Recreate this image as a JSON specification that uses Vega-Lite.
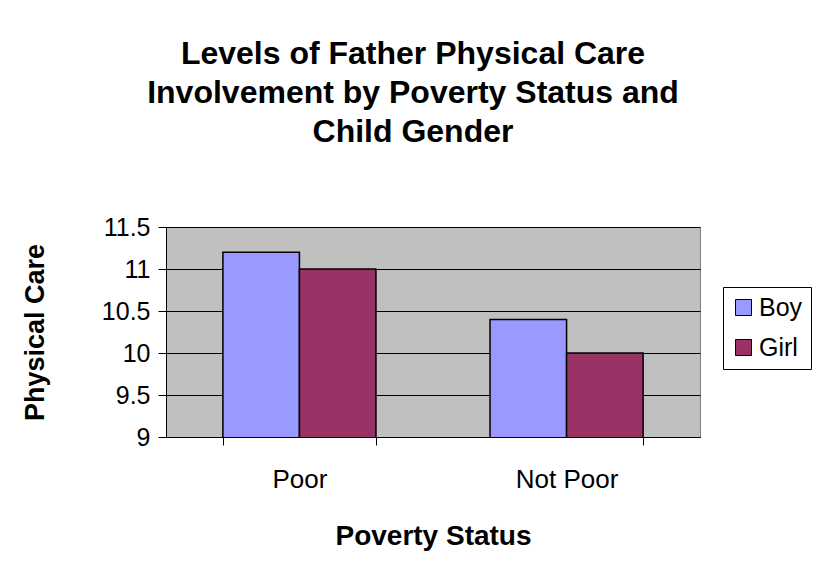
{
  "$schema": "https://vega.github.io/schema/vega-lite/v6.json",
  "autosize": "none",
  "width": 534,
  "height": 210,
  "padding": {"left": 166, "top": 227, "right": 113, "bottom": 139},
  "background": "white",
  "title": {
    "text": ["Levels of Father Physical Care", "Involvement by Poverty Status and", "Child Gender"],
    "font": "Liberation Sans",
    "fontSize": 32,
    "fontWeight": "bold",
    "color": "black",
    "lineHeight": 39,
    "anchor": "middle",
    "dx": -20,
    "offset": 66
  },
  "data": {
    "values": [
      {"status": "Poor", "gender": "Boy", "care": 11.2},
      {"status": "Poor", "gender": "Girl", "care": 11.0},
      {"status": "Not Poor", "gender": "Boy", "care": 10.4},
      {"status": "Not Poor", "gender": "Girl", "care": 10.0}
    ]
  },
  "mark": {"type": "bar", "stroke": "black", "strokeWidth": 1.5, "clip": true},
  "encoding": {
    "x": {
      "field": "status",
      "type": "nominal",
      "sort": ["Poor", "Not Poor"],
      "scale": {"paddingInner": 0.427, "paddingOuter": 0.213},
      "axis": {
        "title": "Poverty Status",
        "titleFont": "Liberation Sans",
        "titleFontSize": 28,
        "titleFontWeight": "bold",
        "titleColor": "black",
        "titlePadding": 30,
        "labelFont": "Liberation Sans",
        "labelFontSize": 26,
        "labelColor": "black",
        "labelAngle": 0,
        "labelPadding": 21,
        "ticks": true,
        "tickBand": "extent",
        "tickSize": 8,
        "tickColor": "black",
        "domain": true,
        "domainColor": "black",
        "domainWidth": 1
      }
    },
    "xOffset": {"field": "gender", "type": "nominal", "sort": ["Boy", "Girl"], "scale": {"paddingInner": 0, "paddingOuter": 0}},
    "y": {
      "field": "care",
      "type": "quantitative",
      "scale": {"domain": [9, 11.5], "zero": false, "nice": false},
      "axis": {
        "title": "Physical Care",
        "titleFont": "Liberation Sans",
        "titleFontSize": 27,
        "titleFontWeight": "bold",
        "titleColor": "black",
        "titlePadding": 52,
        "values": [9, 9.5, 10, 10.5, 11, 11.5],
        "format": "~g",
        "labelFont": "Liberation Sans",
        "labelFontSize": 25,
        "labelColor": "black",
        "labelPadding": 8,
        "tickSize": 8,
        "tickColor": "black",
        "domainColor": "black",
        "grid": true,
        "gridColor": "black",
        "gridWidth": 1
      }
    },
    "color": {
      "field": "gender",
      "type": "nominal",
      "sort": ["Boy", "Girl"],
      "scale": {"domain": ["Boy", "Girl"], "range": ["#9999FF", "#993366"]},
      "legend": {
        "title": null,
        "orient": "none",
        "legendX": 557,
        "legendY": 60,
        "strokeColor": "black",
        "fillColor": "white",
        "padding": 8,
        "labelFont": "Liberation Sans",
        "labelFontSize": 25,
        "labelColor": "black",
        "symbolType": "square",
        "symbolSize": 256,
        "symbolStrokeColor": "black",
        "symbolStrokeWidth": 1,
        "rowPadding": 14,
        "labelOffset": 3
      }
    }
  },
  "config": {
    "view": {"fill": "#C0C0C0", "stroke": "#808080", "strokeWidth": 1}
  }
}
